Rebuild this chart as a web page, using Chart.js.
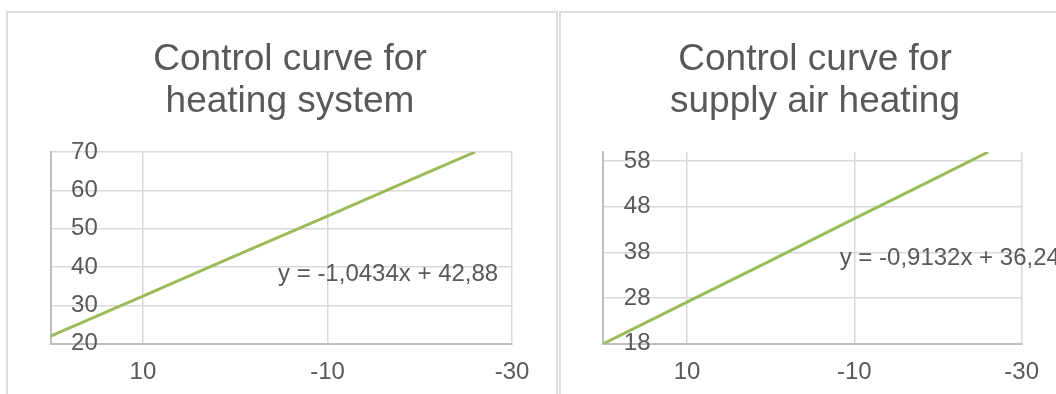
<!DOCTYPE html>
<html>
<head>
<meta charset="utf-8">
<script src="https://cdn.jsdelivr.net/npm/chart.js@4/dist/chart.umd.min.js"></script>
<style>
  html, body { margin: 0; padding: 0; background: #ffffff; overflow: hidden; }
  body { width: 1056px; height: 394px; position: relative; }
  .panel { position: absolute; box-sizing: border-box; border: 2px solid #dedede; background: #ffffff; overflow: hidden; }
  #panel1 { left: 6px; top: 11px; width: 552px; height: 400px; }
  #panel2 { left: 559px; top: 11px; width: 520px; height: 400px; }
  canvas { position: absolute; }
</style>
</head>
<body>
<div class="panel" id="panel1"><canvas id="c1" width="564" height="381" style="left:0px;top:0px;width:564px;height:381px"></canvas></div>
<div class="panel" id="panel2"><canvas id="c2" width="508" height="381" style="left:0px;top:0px;width:508px;height:381px"></canvas></div>
<script>
// Outdoor temperature (°C) along the reversed x axis
const outdoorTemps = [20, 10, 0, -10, -20, -26];

// Heating system flow temperature (°C)
const heatingFlow = [22.0, 32.4, 42.9, 53.3, 63.8, 70.0];
// Supply air heating temperature (°C)
const supplyAirTemp = [18.0, 27.1, 36.2, 45.4, 54.5, 60.0];

// Tick labels
const xTicks = [10, -10, -30];
const yTicksHeating = [20, 30, 40, 50, 60, 70];
const yTicksSupply = [18, 28, 38, 48, 58];

// Titles and trendline equations
const titleHeating = ['Control curve for', 'heating system'];
const titleSupply = ['Control curve for', 'supply air heating'];
const eqHeating = 'y = -1,0434x + 42,88';
const eqSupply = 'y = -0,9132x + 36,24';

const FONT = '"Liberation Sans", Arial, Helvetica, sans-serif';
const TEXT = '#595959';
const GREEN = '#9bbb59';

// Draws the trendline equation text anchored at a data position
const equationLabel = {
  id: 'equationLabel',
  afterDatasetsDraw(chart, args, opts) {
    if (!opts || !opts.text) return;
    const ctx = chart.ctx;
    const px = chart.scales.x.getPixelForValue(opts.x);
    const py = chart.scales.y.getPixelForValue(opts.y);
    ctx.save();
    ctx.font = opts.size + 'px ' + FONT;
    ctx.fillStyle = TEXT;
    ctx.textAlign = 'left';
    ctx.textBaseline = 'middle';
    ctx.fillText(opts.text, px, py);
    ctx.restore();
  }
};

function makeChart(canvasId, xs, ys, yTicks, yMin, yMax, title, eq, leftW, rightW) {
  const points = xs.map((x, i) => ({ x: x, y: ys[i] }));
  return new Chart(document.getElementById(canvasId), {
    type: 'scatter',
    data: {
      datasets: [{
        data: points,
        showLine: true,
        borderColor: GREEN,
        borderWidth: 3,
        pointRadius: 0,
        pointHoverRadius: 0,
        tension: 0
      }]
    },
    options: {
      responsive: false,
      animation: false,
      devicePixelRatio: 1,
      layout: { padding: 0 },
      plugins: {
        legend: { display: false },
        tooltip: { enabled: false },
        title: {
          display: true,
          text: title,
          color: TEXT,
          font: { family: FONT, size: 37, weight: 'normal', lineHeight: 1.135 },
          padding: { top: 25.5, bottom: 29.5 }
        },
        equationLabel: eq
      },
      scales: {
        x: {
          type: 'linear',
          position: 'bottom',
          reverse: true,
          min: -30,
          max: 20,
          afterBuildTicks: s => { s.ticks = xTicks.map(v => ({ value: v })); },
          afterFit: s => { s.height = 50.3; },
          grid: { color: '#d9d9d9', lineWidth: 1.5, drawTicks: false },
          border: { color: '#bfbfbf', width: 2 },
          ticks: { color: TEXT, font: { family: FONT, size: 24 }, padding: 14, maxRotation: 0 }
        },
        y: {
          type: 'linear',
          position: 'left',
          min: yMin,
          max: yMax,
          afterBuildTicks: s => { s.ticks = yTicks.map(v => ({ value: v })); },
          afterFit: s => { s.width = leftW; },
          grid: { color: '#d9d9d9', lineWidth: 1.5, drawTicks: false },
          border: { color: '#bfbfbf', width: 2 },
          ticks: { color: TEXT, font: { family: FONT, size: 24 }, mirror: true, padding: 20.5 }
        },
        pad: {
          type: 'linear',
          position: 'right',
          grid: { display: false },
          border: { display: false },
          ticks: { display: false },
          afterFit: s => { s.width = rightW; }
        }
      }
    },
    plugins: [equationLabel]
  });
}

makeChart('c1', outdoorTemps, heatingFlow, yTicksHeating, 20, 70, titleHeating,
  { text: eqHeating, x: -4.64, y: 38.2, size: 24 }, 42.6, 59.9);
makeChart('c2', outdoorTemps, supplyAirTemp, yTicksSupply, 18, 60, titleSupply,
  { text: eqSupply, x: -8.25, y: 36.75, size: 24 }, 42.3, 47.3);
</script>
</body>
</html>
